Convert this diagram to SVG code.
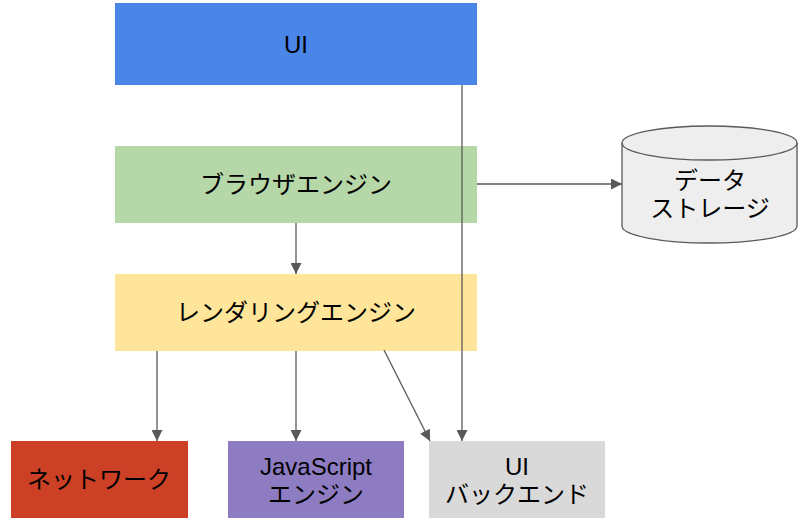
<svg xmlns="http://www.w3.org/2000/svg" width="803" height="523" viewBox="0 0 803 523">
<defs>
<style>
text{font-family:"Liberation Sans","Noto Sans CJK JP",sans-serif;font-size:24px;fill:#000;text-anchor:middle;dominant-baseline:central}
.c{stroke:#595959;stroke-width:1.3;fill:none}
</style>
<marker id="ah" viewBox="0 0 10 10" refX="10" refY="5" markerWidth="11" markerHeight="11" markerUnits="userSpaceOnUse" orient="auto">
<path d="M0,0L10,5L0,10z" fill="#595959"/>
</marker>
</defs>
<g id="ui"><rect x="115" y="3" width="362" height="82" fill="#4a86e8"/><text x="296" y="44">UI</text></g>
<g id="browser"><rect x="115" y="146" width="362" height="77" fill="#b6d7a8"/><text x="296" y="184">ブラウザエンジン</text></g>
<g id="render"><rect x="115" y="274" width="362" height="77" fill="#ffe599"/><text x="296" y="312">レンダリングエンジン</text></g>
<g id="network"><rect x="11" y="441" width="177" height="77" fill="#cc4125"/><text x="99" y="479">ネットワーク</text></g>
<g id="js"><rect x="228" y="441" width="176" height="77" fill="#8e7cc3"/><text x="316" y="466">JavaScript</text><text x="316" y="494">エンジン</text></g>
<g id="uib"><rect x="429" y="441" width="176" height="77" fill="#d9d9d9"/><text x="517" y="466">UI</text><text x="517" y="494">バックエンド</text></g>
<g id="storage">
<path d="M622,143 A87.5,17 0 0 1 797,143 L797,226 A87.5,17 0 0 1 622,226 Z" fill="#eeeeee" stroke="#595959" stroke-width="1.3"/>
<path d="M622,143 A87.5,17 0 0 0 797,143" fill="none" stroke="#595959" stroke-width="1.3"/>
<text x="710" y="180">データ</text><text x="710" y="208">ストレージ</text>
</g>
<g id="connectors">
<line class="c" x1="477" y1="184" x2="622" y2="184" marker-end="url(#ah)"/>
<line class="c" x1="296" y1="223" x2="296" y2="274" marker-end="url(#ah)"/>
<line class="c" x1="157" y1="351" x2="157" y2="441" marker-end="url(#ah)"/>
<line class="c" x1="296" y1="351" x2="296" y2="441" marker-end="url(#ah)"/>
<line class="c" x1="384" y1="350" x2="430" y2="441" marker-end="url(#ah)"/>
<line class="c" x1="462" y1="85" x2="462" y2="441" marker-end="url(#ah)"/>
</g>
</svg>
